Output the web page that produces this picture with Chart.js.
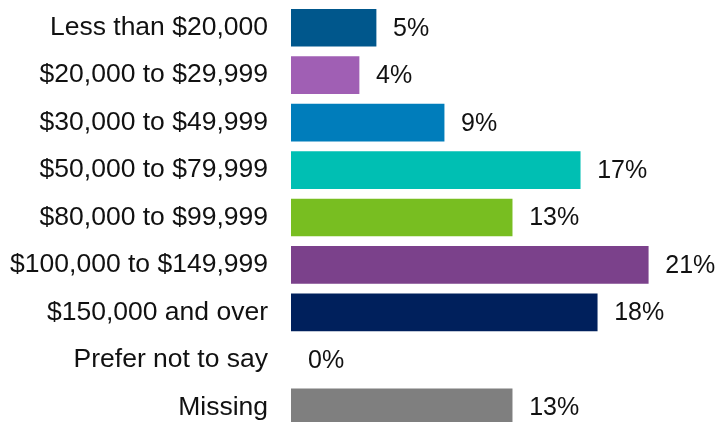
<!DOCTYPE html>
<html>
<head>
<meta charset="utf-8">
<script src="https://cdn.jsdelivr.net/npm/chart.js@4/dist/chart.umd.min.js"></script>
<style>
  html, body { margin: 0; padding: 0; background: #ffffff; overflow: hidden; }
  canvas { display: block; }
</style>
</head>
<body>
<canvas id="chart" width="718" height="431"></canvas>
<script>
// Household income brackets and share of respondents (%)
const categories = [
  "Less than $20,000",
  "$20,000 to $29,999",
  "$30,000 to $49,999",
  "$50,000 to $79,999",
  "$80,000 to $99,999",
  "$100,000 to $149,999",
  "$150,000 and over",
  "Prefer not to say",
  "Missing"
];
const shares = [5, 4, 9, 17, 13, 21, 18, 0, 13];
const barColors = [
  "#00578c", "#a05fb4", "#007dbb", "#00bfb3", "#78be21",
  "#7b418b", "#00205c", "#888888", "#7f7f7f"
];

const FONT = "'Liberation Sans', Arial, sans-serif";

// Writes each share to the right of its bar
const valueLabels = {
  id: "valueLabels",
  afterDatasetsDraw(chart) {
    const ctx = chart.ctx;
    const xScale = chart.scales.x;
    const meta = chart.getDatasetMeta(0);
    ctx.save();
    ctx.font = "25px " + FONT;
    ctx.fillStyle = "#111111";
    ctx.textAlign = "left";
    ctx.textBaseline = "middle";
    meta.data.forEach((bar, i) => {
      const v = chart.data.datasets[0].data[i];
      const x = xScale.getPixelForValue(v) + 17;
      ctx.fillText(v + "%", x, bar.y + 1);
    });
    ctx.restore();
  }
};

new Chart(document.getElementById("chart"), {
  type: "bar",
  data: {
    labels: categories,
    datasets: [{
      data: shares,
      // an empty bracket gets no visible sliver at the baseline
      backgroundColor: (c) => (shares[c.dataIndex] === 0 ? "rgba(0,0,0,0)" : barColors[c.dataIndex]),
      borderWidth: 0,
      barThickness: 37
    }]
  },
  options: {
    indexAxis: "y",
    responsive: false,
    animation: false,
    layout: { padding: { top: 4, right: 0, bottom: 0, left: 0 } },
    plugins: {
      legend: { display: false },
      tooltip: { enabled: false }
    },
    scales: {
      x: {
        display: false,
        min: 0,
        max: 25.1
      },
      y: {
        grid: { display: false, drawTicks: false },
        border: { display: false },
        ticks: {
          color: "#111111",
          font: { family: FONT, size: 26.5 },
          padding: 23,
          autoSkip: false
        },
        afterFit(scale) {
          scale.width = 291;
          scale.paddingTop = 0;
          scale.paddingBottom = 0;
        }
      }
    }
  },
  plugins: [valueLabels]
});
</script>
</body>
</html>
